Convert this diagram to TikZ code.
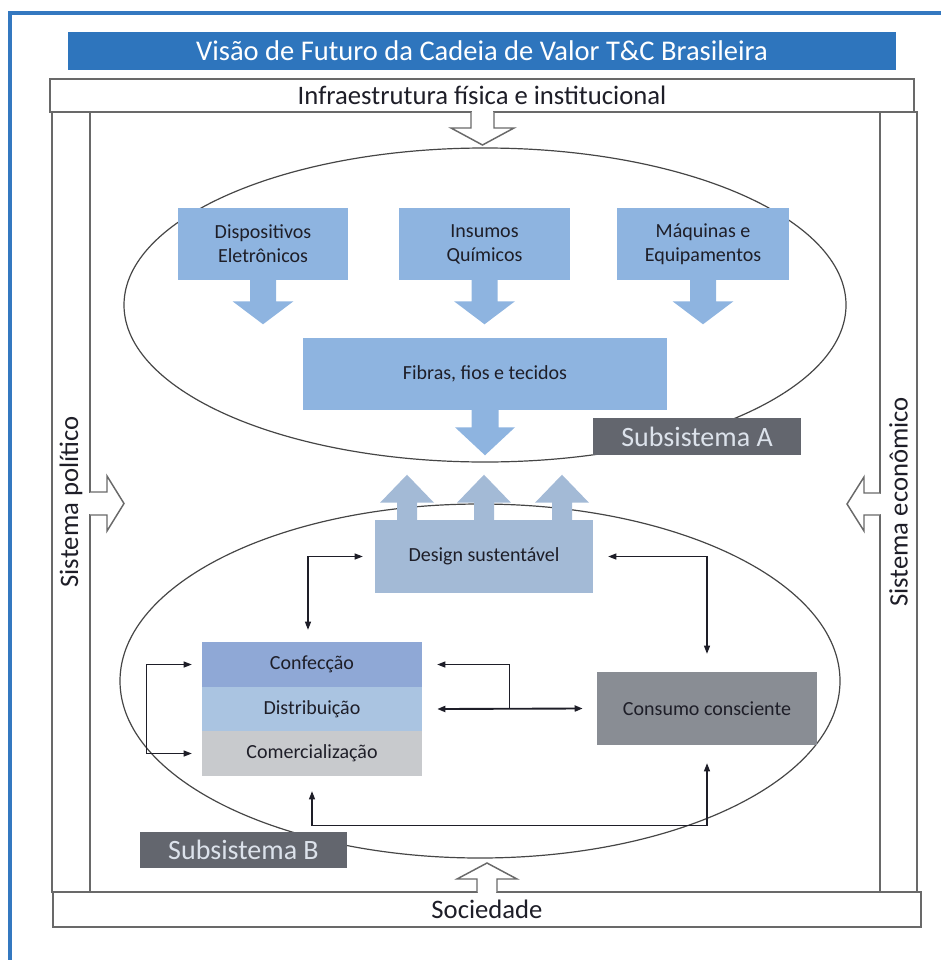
\documentclass[tikz,border=0pt]{standalone}
\usepackage{fontspec}
\setmainfont{Carlito}
\usetikzlibrary{arrows.meta,calc}

\definecolor{titleblue}{RGB}{46,117,189}
\definecolor{edgeblue}{RGB}{52,120,192}
\definecolor{barline}{RGB}{105,105,105}
\definecolor{ringgray}{RGB}{70,70,70}
\definecolor{boxblue}{RGB}{142,180,224}
\definecolor{designblue}{RGB}{163,186,214}
\definecolor{confblue}{RGB}{143,168,214}
\definecolor{distblue}{RGB}{170,196,225}
\definecolor{comgray}{RGB}{200,202,205}
\definecolor{consgray}{RGB}{137,141,148}
\definecolor{subgray}{RGB}{99,102,110}
\definecolor{subtext}{RGB}{220,226,235}
\definecolor{ink}{RGB}{30,30,40}

\begin{document}
\begin{tikzpicture}[x=0.75pt,y=-0.75pt,
    wh/.style 2 args={minimum width=#1*0.75pt,minimum height=#2*0.75pt},
    bar/.style={draw=barline,line width=1.1pt,fill=white,inner sep=0pt,text=ink,
      font=\fontsize{20}{24}\selectfont},
    hollow/.style={draw=barline,line width=1.1pt,fill=white,line join=miter},
    ring/.style={draw=ringgray,line width=0.9pt},
    box/.style={fill=#1,inner sep=0pt,align=center,text=ink,font=\fontsize{15}{18}\selectfont},
    subsys/.style={fill=subgray,text=subtext,inner sep=0pt,font=\fontsize{21}{24}\selectfont},
    link/.style={draw=ink,line width=0.8pt,>={Triangle[length=6pt,width=4.5pt]}}]
  \useasboundingbox (0,0) rectangle (941,960);

  % outer blue edge
  \draw[edgeblue,line width=3pt] (10,960) -- (10,13) -- (941,13);

  \node[fill=titleblue,text=white,inner sep=0pt,wh={828}{38},
    font=\fontsize{21.4}{25}\selectfont] (title) at (482,51)
    {Visão de Futuro da Cadeia de Valor T\&C Brasileira};

  % frame: bars and pillars
  \node[bar,wh={864}{33}] (infra) at (482,95.5) {Infraestrutura física e institucional};
  \node[bar,wh={780}{38},rotate=90] (pol) at (71,502) {Sistema político};
  \node[bar,wh={780}{37},rotate=90] (eco) at (898.5,502) {Sistema econômico};
  \node[bar,wh={868}{35}] (soc) at (487,909.5) {Sociedade};

  \fill[white] (472,108) rectangle (493,116);
  \draw[hollow] (471,112) -- (471,128) -- (451,128) -- (482.5,145) -- (514,128) -- (494,128) -- (494,112);
  \fill[white] (86,493) rectangle (94,514);
  \draw[hollow] (90,492) -- (107,492) -- (107,476) -- (124,503.5) -- (107,531) -- (107,515) -- (90,515);
  \fill[white] (876,494) rectangle (884,514);
  \draw[hollow] (880,493) -- (864,493) -- (864,477) -- (847,504) -- (864,531) -- (864,515) -- (880,515);
  \fill[white] (478,888) rectangle (496,896);
  \draw[hollow] (477,892) -- (477,879) -- (457,879) -- (487,863) -- (517,879) -- (497,879) -- (497,892);

  % subsystem A
  \draw[ring] (485,305) ellipse [x radius=361, y radius=157];
  \node[box=boxblue,wh={170}{72}] (disp) at (263,244) {Dispositivos\\Eletrônicos};
  \node[box=boxblue,wh={171}{72}] (insu) at (484.5,244) {Insumos\\Químicos};
  \node[box=boxblue,wh={172}{72}] (maq) at (703,244) {Máquinas e\\Equipamentos};
  \node[box=boxblue,wh={364}{72}] (fib) at (485,374) {Fibras, fios e tecidos};
  \foreach \b in {disp,insu,maq}
    \fill[boxblue] (\b.south) ++(-13,-1) -- ++(0,22) -- ++(-17.5,0) -- ++(30.5,23)
      -- ++(30.5,-23) -- ++(-17.5,0) -- ++(0,-22) -- cycle;
  \fill[boxblue] (fib.south) ++(-13.5,-1) -- ++(0,18) -- ++(-16.5,0) -- ++(30,28)
    -- ++(30,-28) -- ++(-16.5,0) -- ++(0,-18) -- cycle;
  \node[subsys,wh={208}{37}] (subA) at (697,436.5) {Subsistema A};

  % subsystem B
  \draw[ring] (480,681) ellipse [x radius=360, y radius=177];
  \node[box=designblue,wh={218}{73}] (design) at (484,556.5) {Design sustentável};
  \foreach \dx in {-77,0,78}
    \fill[designblue] (design.north) ++(\dx,1) ++(-10,0) -- ++(0,-18) -- ++(-17,0)
      -- ++(27,-28) -- ++(27,28) -- ++(-17,0) -- ++(0,18) -- cycle;
  \node[box=confblue,wh={220}{45}] (conf) at (312,664.5) {Confecção};
  \node[box=distblue,wh={220}{44}] (dist) at (312,709) {Distribuição};
  \node[box=comgray,wh={220}{45}] (com) at (312,753.5) {Comercialização};
  \node[box=consgray,wh={220}{73}] (cons) at (707,708.5) {Consumo consciente};
  \node[subsys,wh={207}{36}] (subB) at (243.5,850) {Subsistema B};

  \draw[link,<->] ($(design.west)+(-12,0)$) -| ($(conf.north)+(-4,-12)$);
  \draw[link,<->] ($(design.east)+(15,0)$) -| ($(cons.north)+(0,-18)$);
  \draw[link,<->,line width=1.4pt] ($(dist.east)+(15,0)$) -- ($(cons.west)+(-14,0)$);
  \coordinate (fork) at ($(dist.east)!0.5!(cons.west)$);
  \draw[link,->] (fork) |- ($(conf.east)+(15,0)$);
  \draw[link,<->] ($(conf.west)+(-10,0)$) -- ++(-45,0) |- ($(com.west)+(-10,0)$);
  \draw[link,<->] ($(com.south)+(0,15)$) -- ++(0,34) -| ($(cons.south)+(0,18)$);
\end{tikzpicture}
\end{document}
